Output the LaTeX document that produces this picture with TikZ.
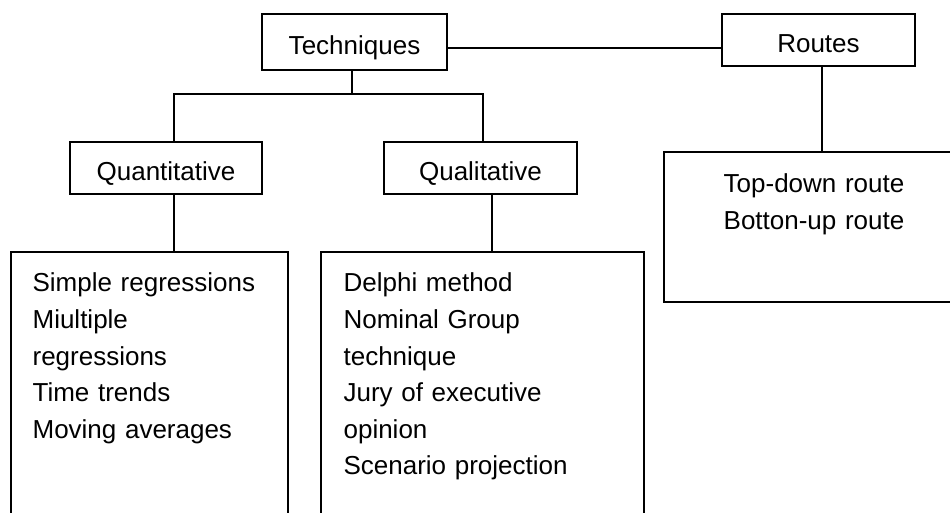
\documentclass[tikz,border=0pt]{standalone}
\usepackage{fontspec}
\setmainfont{Liberation Sans}
\usepackage{tikz}

\begin{document}
\begin{tikzpicture}[x=0.5pt, y=-0.5pt, line width=0.6pt,
    box/.style={draw, inner sep=0pt, text height=13pt, text depth=0pt, font=\fontsize{13}{18.3}\selectfont},
    txt/.style={inner sep=0pt, text width=150pt, font=\fontsize{13}{18.3}\selectfont}]
   \useasboundingbox (0,0) rectangle (950,513);
   \clip (0,0) rectangle (950,513);

   \node[box, minimum width=92.5pt, minimum height=28pt] (tech) at (354.5, 42) {Techniques};
   \node[box, minimum width=96.5pt, minimum height=26pt] (routes) at (818.5, 40) {Routes};
   \node[box, minimum width=96pt, minimum height=26pt] (quant) at (166, 168) {Quantitative};
   \node[box, minimum width=96.5pt, minimum height=26pt] (qual) at (480.5, 168) {Qualitative};

   \node[box, minimum width=138.5pt, minimum height=144pt] (quantlist) at (149.5, 396) {};
   \node[box, minimum width=161.5pt, minimum height=144pt] (quallist) at (482.5, 396) {};
   \node[box, minimum width=150pt, minimum height=75pt] (routelist) at (814, 227) {};

   \node[txt, align=left, anchor=base west] at (32, 292)
      {Simple regressions\\Miultiple\\regressions\\Time trends\\Moving averages};
   \node[txt, align=left, anchor=base west] at (343, 292)
      {Delphi method\\Nominal Group\\technique\\Jury of executive\\opinion\\Scenario projection};
   \node[txt, text width=100pt, align=center, anchor=base] at (814, 193)
      {Top-down route\\Botton-up route};

   \draw ([yshift=-3pt]tech.east) -- ([yshift=-3pt]tech.east -| routes.west);
   \draw ([xshift=-1.25pt]tech.south) -- ([xshift=-1.25pt]tech.south |- 0,94);
   \draw ([xshift=4pt]quant.north) |- ([xshift=1.25pt]qual.north |- 0,94) -- ([xshift=1.25pt]qual.north);
   \draw ([xshift=4pt]quant.south) -- ([xshift=4pt]quant.south |- quantlist.north);
   \draw ([xshift=5.75pt]qual.south) -- ([xshift=5.75pt]qual.south |- quallist.north);
   \draw ([xshift=1.75pt]routes.south) -- ([xshift=1.75pt]routes.south |- routelist.north);
\end{tikzpicture}
\end{document}
